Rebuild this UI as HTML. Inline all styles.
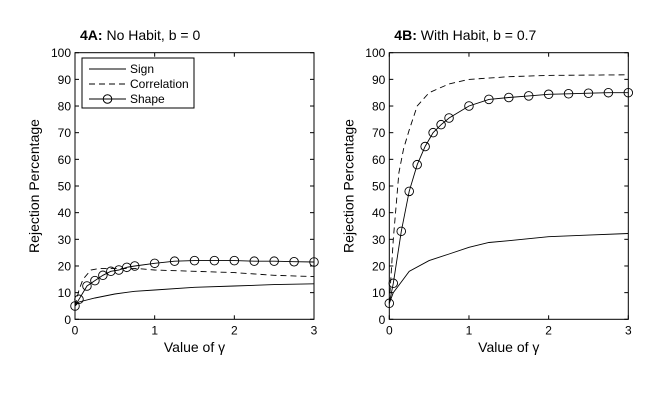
<!DOCTYPE html>
<html><head><meta charset="utf-8"><style>
html,body{margin:0;padding:0;background:#fff;}
svg{display:block;font-family:"Liberation Sans",Arial,sans-serif;}
</style></head><body>
<svg id="s" width="671" height="412" viewBox="0 0 671 412" xmlns="http://www.w3.org/2000/svg">
<rect width="671" height="412" fill="#fff"/>
</svg>
<script>
const S=document.getElementById('s');const NS='http://www.w3.org/2000/svg';
function el(t,a,txt){const e=document.createElementNS(NS,t);for(const k in a)e.setAttribute(k,a[k]);if(txt!==undefined)e.textContent=txt;S.appendChild(e);return e;}
const Y0=319.3,Y1=52.7;
function panel(x0,x1,title,bold,data,legend){
  const X=v=>x0+(x1-x0)*v/3, Yv=v=>Y0-(Y0-Y1)*v/100;
  // ticks
  for(let v=0;v<=100;v+=10){const y=Yv(v);
    el('line',{x1:x0,y1:y,x2:x0+4,y2:y,stroke:'#000','stroke-width':1});
    el('line',{x1:x1,y1:y,x2:x1-4,y2:y,stroke:'#000','stroke-width':1});
    el('text',{x:x0-4,y:y+4.5,'text-anchor':'end','font-size':12},v);}
  for(let v=0;v<=3;v++){const x=X(v);
    el('line',{x1:x,y1:Y0,x2:x,y2:Y0-4,stroke:'#000'});
    el('line',{x1:x,y1:Y1,x2:x,y2:Y1+4,stroke:'#000'});
    el('text',{x:x,y:Y0+15,'text-anchor':'middle','font-size':12},v);}
  const pl=(pts,extra)=>el('polyline',Object.assign({points:pts.map(p=>X(p[0]).toFixed(1)+','+Yv(p[1]).toFixed(1)).join(' '),fill:'none',stroke:'#000','stroke-width':0.9},extra||{}));
  pl(data.sign);
  pl(data.corr,{'stroke-dasharray':'6,4'});
  pl(data.shape);
  data.shape.forEach(p=>el('circle',{cx:X(p[0]),cy:Yv(p[1]),r:4.3,fill:'none',stroke:'#000','stroke-width':0.9}));
  el('rect',{x:x0,y:Y1,width:x1-x0,height:Y0-Y1,fill:'none',stroke:'#000','stroke-width':1});
  const t=el('text',{x:x0+5,y:40,'font-size':14});
  const b=document.createElementNS(NS,'tspan');b.setAttribute('font-weight','bold');b.textContent=bold;t.appendChild(b);
  t.appendChild(document.createTextNode(title));
  el('text',{x:(x0+x1)/2,y:352,'text-anchor':'middle','font-size':14},'Value of γ');
  el('text',{x:0,y:0,'text-anchor':'middle','font-size':14,transform:`translate(${x0-36},${(Y0+Y1)/2}) rotate(-90)`},'Rejection Percentage');
  if(legend){
    el('rect',{x:82,y:58,width:112,height:50,fill:'#fff',stroke:'#000'});
    el('line',{x1:89,y1:69,x2:126,y2:69,stroke:'#000'});
    el('line',{x1:89,y1:84,x2:126,y2:84,stroke:'#000','stroke-dasharray':'6,4'});
    el('line',{x1:89,y1:99,x2:126,y2:99,stroke:'#000'});
    el('circle',{cx:107.5,cy:99,r:4.3,fill:'none',stroke:'#000'});
    el('text',{x:130,y:73,'font-size':12},'Sign');
    el('text',{x:130,y:88,'font-size':12},'Correlation');
    el('text',{x:130,y:103,'font-size':12},'Shape');
  }
}
const sx=[0,0.05,0.15,0.25,0.35,0.45,0.55,0.65,0.75,1,1.25,1.5,1.75,2,2.25,2.5,2.75,3];
const zip=(a)=>sx.map((x,i)=>[x,a[i]]);
panel(75,314,' No Habit, b = 0','4A:',{
  shape:zip([5,7.5,12.5,14.5,16.5,18,18.5,19.5,20,21,21.8,22,22,22,21.8,21.8,21.6,21.5]),
  corr:[[0,5],[0.05,11],[0.1,15],[0.2,18.5],[0.3,19],[0.8,19],[1,18.5],[1.5,18],[2,17.5],[2.5,16.5],[3,16]],
  sign:[[0,5],[0.05,6.5],[0.25,8],[0.5,9.5],[0.75,10.5],[1,11],[1.5,12],[2,12.5],[2.5,13],[3,13.3]]
},true);
panel(389.3,628.3,' With Habit, b = 0.7','4B:',{
  shape:zip([6,13.5,33,48,58,64.8,70,73,75.5,80,82.5,83.2,83.8,84.4,84.6,84.8,85,85]),
  corr:[[0,6],[0.05,30],[0.12,55],[0.18,64],[0.25,71],[0.35,80],[0.5,85],[0.75,88.3],[1,90],[1.5,91],[2,91.5],[3,91.7]],
  sign:[[0,6],[0.05,10],[0.15,14],[0.25,18],[0.5,22],[0.75,24.5],[1,27],[1.25,28.8],[1.5,29.5],[2,31],[2.5,31.6],[3,32.2]]
},false);
</script>
</body></html>
